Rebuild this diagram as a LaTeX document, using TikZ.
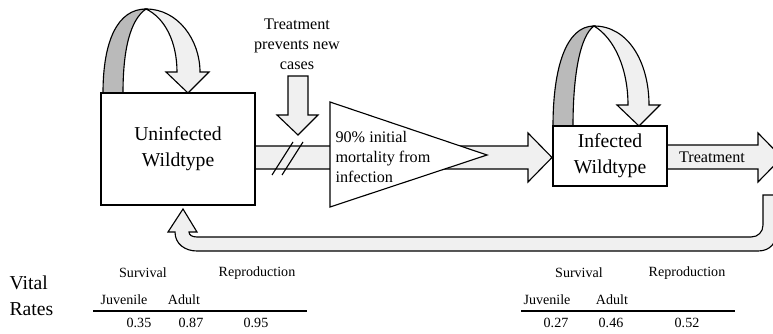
\documentclass[tikz,border=0pt]{standalone}
\usepackage{tikz}
\usepackage{xcolor}
\usepackage{fontspec}
\setmainfont{Liberation Serif}
\usetikzlibrary{positioning}

\begin{document}
\begin{tikzpicture}[x=0.025cm, y=-0.025cm, line width=0.8pt, line join=miter]
                \colorlet{lightBand}{black!6}
                \colorlet{darkBand}{black!27}
                \tikzset{
                  blockArrow/.style={draw, fill=lightBand},
                  backBand/.style={draw, fill=darkBand},
                  stateBox/.style={draw, fill=white, align=center, font=\fontsize{14}{18.5}\selectfont, inner sep=0pt},
                  arrowText/.style={font=\fontsize{11.5}{14}\selectfont, inner sep=0pt},
                  rateText/.style={font=\fontsize{10}{12}\selectfont, inner sep=0pt}
                }
                \useasboundingbox (0,0) rectangle (773,334);
                \begin{scope}
                  \draw[backBand] (103,93) .. controls (103,40) and (118,9) .. (146,9)
                    .. controls (130,20) and (123,50) .. (123,93) -- cycle;
                  \draw[blockArrow] (146,9) .. controls (178,9) and (200,40) .. (200,72)
                    -- (209,72) -- (188,93) -- (166,72) -- (177,72)
                    .. controls (177,42) and (165,18) .. (146,9) -- cycle;
                \end{scope}
                \begin{scope}
                  \draw[backBand] (553,126) .. controls (553,68) and (566,26) .. (594,26)
                    .. controls (580,36) and (573,75) .. (573,126) -- cycle;
                  \draw[blockArrow] (594,26) .. controls (628,26) and (649,62) .. (649,105)
                    -- (660,105) -- (639,126) -- (617,105) -- (628,105)
                    .. controls (628,68) and (614,38) .. (594,26) -- cycle;
                \end{scope}
                \draw[blockArrow] (255,146) -- (528,146) -- (528,133) -- (552,157.5)
                  -- (528,182) -- (528,169) -- (255,169) -- cycle;
                \draw (272,175) -- (293,142);
                \draw (282,175) -- (303,142);
                \draw[fill=white] (330,102) -- (487,155) -- (330,207) -- cycle;
                \node[arrowText, anchor=west, align=left] (mortality) at (335,157)
                  {90\% initial\\mortality from\\infection};
                \draw[blockArrow] (288,76) -- (308,76) -- (308,115) -- (318,115)
                  -- (298,135) -- (277,115) -- (288,115) -- cycle;
                \node[arrowText, align=center, font=\fontsize{11.5}{14.2}\selectfont] (prevents) at (297,44)
                  {Treatment\\prevents new\\cases};
                \draw[blockArrow] (667,145) -- (758,145) -- (758,133) -- (782,157.5)
                  -- (758,182) -- (758,169) -- (667,169) -- cycle;
                \node[arrowText] (treat) at (712,157) {Treatment};
                \draw[blockArrow] (763,195) -- (763,225) .. controls (763,232) and (758,237) .. (751,237)
                  -- (197,237) .. controls (192,237) and (189,235) .. (189,232)
                  -- (197,232) -- (183,209) -- (168,232) -- (175,232)
                  .. controls (175,244) and (185,251) .. (197,251) -- (758,251)
                  .. controls (770,251) and (777,243) .. (777,230) -- (777,195) -- cycle;
                \node[stateBox, minimum width=3.85cm, minimum height=2.8cm] (uninf) at (178,149)
                  {Uninfected\\Wildtype};
                \node[stateBox, minimum width=2.85cm, minimum height=1.5cm] (inf) at (610,156)
                  {Infected\\Wildtype};
                \node[anchor=west, align=left, inner sep=0pt, font=\fontsize{14}{18.4}\selectfont] (vital) at (9,296)
                  {Vital\\Rates};
                \node[rateText] (survL) at (143,273) {Survival};
                \node[rateText] (reprL) at (257,273) {Reproduction};
                \node[rateText] (juvL) at (124,300) {Juvenile};
                \node[rateText] (adL) at (184,300) {Adult};
                \draw[line width=0.8pt] (93,311) -- (307,311);
                \node[rateText] (v1L) at (139,323) {0.35};
                \node[rateText] (v2L) at (191,323) {0.87};
                \node[rateText] (v3L) at (256,323) {0.95};
                \node[rateText] (survR) at (579,273) {Survival};
                \node[rateText] (reprR) at (687,273) {Reproduction};
                \node[rateText] (juvR) at (547,300) {Juvenile};
                \node[rateText] (adR) at (612,300) {Adult};
                \draw[line width=0.8pt] (521,311) -- (735,311);
                \node[rateText] (v1R) at (556,323) {0.27};
                \node[rateText] (v2R) at (611,323) {0.46};
                \node[rateText] (v3R) at (687,323) {0.52};
              \end{tikzpicture}
\end{document}
